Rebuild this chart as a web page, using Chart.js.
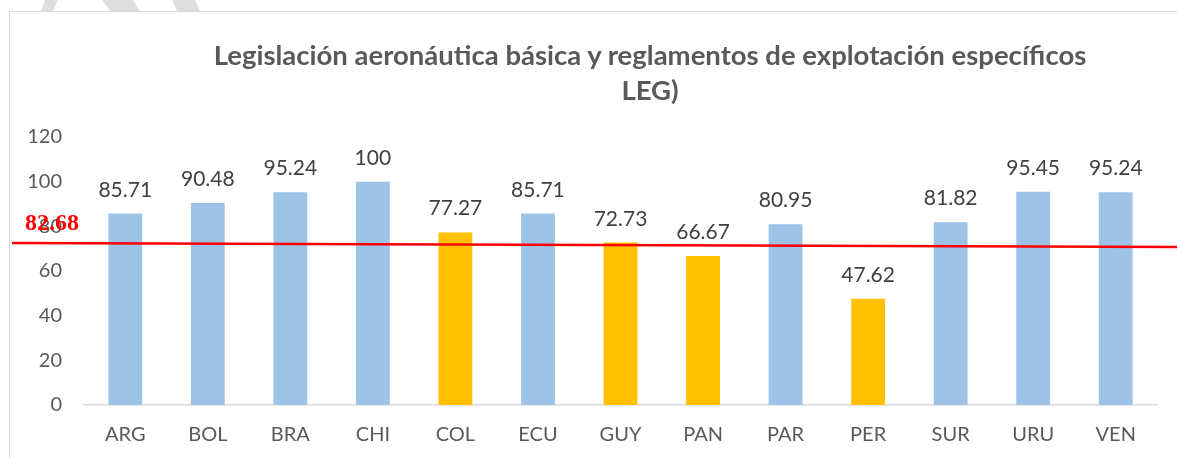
<!DOCTYPE html>
<html lang="es">
<head>
  <meta charset="UTF-8" />
  <title>LEG</title>
  <script src="https://cdn.jsdelivr.net/npm/chart.js"></script>
  <style>
    body { margin: 0; background: #fff; overflow: hidden; }
    #wrap { position: relative; width: 1177px; height: 459px; }
    #frame { position: absolute; left: 9px; top: 11px; right: -5px; bottom: -5px;
             border-left: 1.5px solid #d9d9d9; border-top: 1.5px solid #d9d9d9; }
    #title { position: absolute; left: 0; width: 1300px; top: 37px; text-align: center;
             font: bold 27.5px Lato, sans-serif; color: #595959; line-height: 35px; }
  </style>
</head>
<body>
  <div id="wrap">
    <div id="frame"></div>
    <canvas id="legChart" width="1177" height="459"></canvas>
    <div id="title">Legislación aeronáutica básica y reglamentos de explotación específicos<br>LEG)</div>
  </div>

  <script>
    // Data
    const countries = ["ARG", "BOL", "BRA", "CHI", "COL", "ECU", "GUY", "PAN", "PAR", "PER", "SUR", "URU", "VEN"];
    const scores = [85.71, 90.48, 95.24, 100, 77.27, 85.71, 72.73, 66.67, 80.95, 47.62, 81.82, 95.45, 95.24];
    const below = [false, false, false, false, true, false, true, true, false, true, false, false, false];
    const yTicks = [0, 20, 40, 60, 80, 100, 120];
    // red reference line, as drawn (left end, right end) and its label
    const refLine = [72.5, 70.7];
    const refLabel = "82.68";

    const BLUE = "#9dc3e6";
    const GOLD = "#ffc000";

    // faint gray strokes above the frame
    const watermark = {
      id: "watermark",
      beforeDraw(chart) {
        const c = chart.ctx;
        c.save();
        c.fillStyle = "#dedede";
        const quads = [
          [[41, 11], [53, 11], [58, 0], [45, 0]],
          [[110, 11], [140, 11], [133, 0], [102, 0]],
          [[177, 11], [200, 11], [195, 0], [172, 0]]
        ];
        quads.forEach(q => {
          c.beginPath();
          c.moveTo(q[0][0], q[0][1]);
          q.slice(1).forEach(p => c.lineTo(p[0], p[1]));
          c.closePath();
          c.fill();
        });
        c.restore();
      }
    };

    // value above each bar
    const valueLabels = {
      id: "valueLabels",
      afterDatasetsDraw(chart) {
        const c = chart.ctx;
        const meta = chart.getDatasetMeta(0);
        c.save();
        c.font = "21px Lato, sans-serif";
        c.fillStyle = "#404040";
        c.textAlign = "center";
        c.textBaseline = "alphabetic";
        meta.data.forEach((bar, i) => {
          c.fillText(String(scores[i]), bar.x, bar.y - 17);
        });
        c.restore();
      }
    };

    // red hand-drawn line with its label
    const refLinePlugin = {
      id: "refLine",
      afterDraw(chart) {
        const c = chart.ctx;
        const y = chart.scales.y;
        const y1 = y.getPixelForValue(refLine[0]);
        const y2 = y.getPixelForValue(refLine[1]);
        c.save();
        c.strokeStyle = "#ff0000";
        c.lineWidth = 2.5;
        c.beginPath();
        c.moveTo(12, y1);
        c.lineTo(chart.width, y2);
        c.stroke();
        c.font = "bold 24px 'Liberation Serif', serif";
        c.fillStyle = "#ff0000";
        c.textAlign = "left";
        c.textBaseline = "middle";
        c.fillText(refLabel, 25, y1 - 19);
        c.restore();
      }
    };

    new Chart(document.getElementById("legChart"), {
      type: "bar",
      data: {
        labels: countries,
        datasets: [{
          data: scores,
          backgroundColor: below.map(b => (b ? GOLD : BLUE)),
          barPercentage: 0.41,
          categoryPercentage: 1
        }]
      },
      options: {
        responsive: false,
        animation: false,
        layout: { padding: { top: 137, right: 20, left: 0, bottom: 0 } },
        plugins: { legend: { display: false }, tooltip: { enabled: false } },
        scales: {
          x: {
            grid: { display: false, drawTicks: false },
            border: { display: true, color: "#d9d9d9", width: 1.5 },
            ticks: { font: { family: "Lato", size: 20 }, color: "#595959", padding: 18 },
            afterFit(s) { s.height = 54; }
          },
          y: {
            min: 0,
            max: 120,
            afterBuildTicks(s) { s.ticks = yTicks.map(v => ({ value: v })); },
            grid: { display: false, drawTicks: false },
            border: { display: false },
            ticks: { font: { family: "Lato", size: 20 }, color: "#595959", padding: 22 },
            afterFit(s) { s.width = 84; }
          }
        }
      },
      plugins: [watermark, valueLabels, refLinePlugin]
    });
  </script>
</body>
</html>
